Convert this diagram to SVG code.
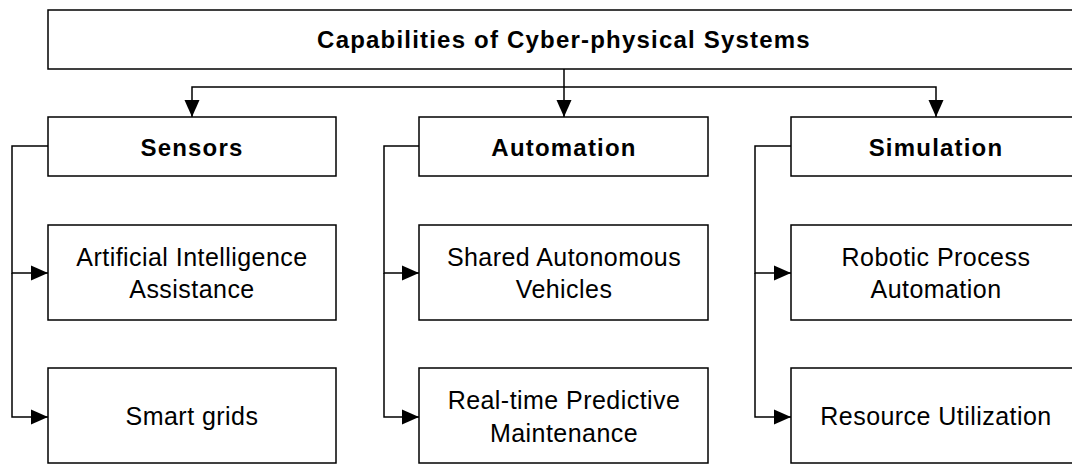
<svg xmlns="http://www.w3.org/2000/svg" width="1072" height="464" viewBox="0 0 1072 464">
<style>
  .box { fill: #fff; stroke: #000; stroke-width: 1.5; }
  .conn { fill: none; stroke: #000; stroke-width: 1.5; }
  .h { font-family: "Liberation Sans", Arial, sans-serif; font-weight: bold; font-size: 24px; letter-spacing: 1.2px; text-anchor: middle; fill: #000; }
  .t { font-family: "Liberation Sans", Arial, sans-serif; font-size: 25px; letter-spacing: 0.45px; text-anchor: middle; fill: #000; }
</style>
<defs>
  <marker id="arr" markerUnits="userSpaceOnUse" markerWidth="17" markerHeight="16" refX="17" refY="8" orient="auto">
    <path d="M0,0.5 L17,8 L0,15.5 Z" fill="#000"/>
  </marker>
</defs>
<rect width="1072" height="464" fill="#fff"/>
<g id="connectors">
  <path class="conn" d="M564,69 L564,117" marker-end="url(#arr)"/>
  <path class="conn" d="M564,87 L192,87 L192,117" marker-end="url(#arr)"/>
  <path class="conn" d="M564,87 L936,87 L936,117" marker-end="url(#arr)"/>
  <path class="conn" d="M48,146 L12,146 L12,273 L48,273" marker-end="url(#arr)"/>
  <path class="conn" d="M12,273 L12,417 L48,417" marker-end="url(#arr)"/>
  <path class="conn" d="M419,146 L384,146 L384,273 L419,273" marker-end="url(#arr)"/>
  <path class="conn" d="M384,273 L384,417 L419,417" marker-end="url(#arr)"/>
  <path class="conn" d="M791,146 L755,146 L755,273 L791,273" marker-end="url(#arr)"/>
  <path class="conn" d="M755,273 L755,417 L791,417" marker-end="url(#arr)"/>
</g>
<g id="root">
  <rect class="box" x="48" y="10" width="1040" height="59"/>
  <text class="h" x="564" y="47.5">Capabilities of Cyber-physical Systems</text>
</g>
<g id="sensors">
  <rect class="box" x="48" y="117" width="288" height="59"/>
  <text class="h" x="192" y="155.5">Sensors</text>
</g>
<g id="automation">
  <rect class="box" x="419" y="117" width="289" height="59"/>
  <text class="h" x="564" y="155.5">Automation</text>
</g>
<g id="simulation">
  <rect class="box" x="791" y="117" width="289" height="59"/>
  <text class="h" x="936" y="155.5">Simulation</text>
</g>
<g id="ai-assistance">
  <rect class="box" x="48" y="225" width="288" height="95"/>
  <text class="t" x="192" y="265.5">Artificial Intelligence</text>
  <text class="t" x="192" y="297.5">Assistance</text>
</g>
<g id="smart-grids">
  <rect class="box" x="48" y="368" width="288" height="95"/>
  <text class="t" x="192" y="425">Smart grids</text>
</g>
<g id="shared-av">
  <rect class="box" x="419" y="225" width="289" height="95"/>
  <text class="t" x="564" y="265.5">Shared Autonomous</text>
  <text class="t" x="564" y="297.5">Vehicles</text>
</g>
<g id="predictive-maintenance">
  <rect class="box" x="419" y="368" width="289" height="95"/>
  <text class="t" x="564" y="409">Real-time Predictive</text>
  <text class="t" x="564" y="441.5">Maintenance</text>
</g>
<g id="rpa">
  <rect class="box" x="791" y="225" width="289" height="95"/>
  <text class="t" x="936" y="265.5">Robotic Process</text>
  <text class="t" x="936" y="297.5">Automation</text>
</g>
<g id="resource-utilization">
  <rect class="box" x="791" y="368" width="289" height="95"/>
  <text class="t" x="936" y="425">Resource Utilization</text>
</g>
</svg>
